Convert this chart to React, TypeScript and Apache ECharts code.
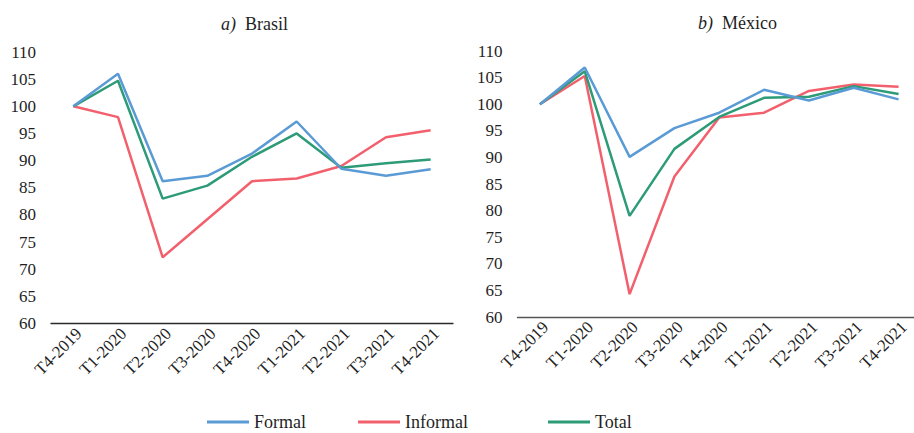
import React, { useEffect, useRef } from "react";
import * as echarts from "echarts";

const categories = ["T4-2019", "T1-2020", "T2-2020", "T3-2020", "T4-2020", "T1-2021", "T2-2021", "T3-2021", "T4-2021"];

const brasilFormal = [100, 106.0, 86.2, 87.2, 91.3, 97.2, 88.5, 87.2, 88.4];
const brasilInformal = [100, 98.0, 72.2, 79.2, 86.2, 86.7, 89.0, 94.3, 95.6];
const brasilTotal = [100, 104.7, 83.0, 85.4, 90.7, 95.0, 88.7, 89.5, 90.2];

const mexicoFormal = [100, 106.9, 90.1, 95.5, 98.4, 102.7, 100.7, 103.1, 100.9];
const mexicoInformal = [100, 105.3, 64.3, 86.4, 97.5, 98.4, 102.5, 103.7, 103.3];
const mexicoTotal = [100, 106.2, 79.0, 91.6, 97.6, 101.2, 101.4, 103.4, 101.9];

const seriesNames = ["Formal", "Informal", "Total"];
const panelTitles = ["a)", "Brasil", "b)", "México"];

const COLORS = ["#5B9BD5", "#F2606D", "#2D9B78"];
const FONT = "Liberation Serif";
const TEXT = "#1f1f1f";

export default function App() {
  const ref = useRef<HTMLDivElement>(null);

  useEffect(() => {
    if (!ref.current) return;
    const chart = echarts.init(ref.current, null, { renderer: "svg" });

    const grids = [
      { left: 51, top: 52, width: 402, height: 271.5 },
      { left: 517.5, top: 51, width: 403.5, height: 266 },
    ];

    const xAxes = grids.map((_, i) => ({
      type: "category",
      gridIndex: i,
      data: categories,
      boundaryGap: true,
      axisLine: { show: true, lineStyle: { color: i === 0 ? "#2a2a2a" : "#555555", width: 1.3 } },
      axisTick: { show: false },
      splitLine: { show: false },
      axisLabel: {
        rotate: 45,
        interval: 0,
        fontFamily: FONT,
        fontSize: 17,
        color: TEXT,
        margin: 13,
        padding: [0, -8, 0, 0],
      },
    }));

    const yAxes = grids.map((_, i) => ({
      type: "value",
      gridIndex: i,
      min: 60,
      max: 110,
      interval: 5,
      axisLine: { show: false },
      axisTick: { show: false },
      splitLine: { show: false },
      axisLabel: { fontFamily: FONT, fontSize: 17, color: TEXT, margin: 15 },
    }));

    const data = [
      [brasilFormal, brasilInformal, brasilTotal],
      [mexicoFormal, mexicoInformal, mexicoTotal],
    ];

    const series: any[] = [];
    data.forEach((panel, p) => {
      panel.forEach((vals, s) => {
        series.push({
          type: "line",
          name: seriesNames[s],
          xAxisIndex: p,
          yAxisIndex: p,
          data: vals,
          symbol: "none",
          lineStyle: { color: COLORS[s], width: 2.5 },
          itemStyle: { color: COLORS[s] },
          z: s === 0 ? 3 : s === 2 ? 2 : 1,
        });
      });
    });

    const titleRich = {
      i: { fontFamily: FONT, fontSize: 18, fontStyle: "italic", fontWeight: "normal", color: TEXT },
      n: { fontFamily: FONT, fontSize: 18, fontWeight: "normal", color: TEXT },
    };

    const legendLefts = [207, 358, 548];

    chart.setOption({
      animation: false,
      title: [
        {
          text: `{i|${panelTitles[0]}}{n|  ${panelTitles[1]}}`,
          left: 249.5,
          top: 10,
          textAlign: "center",
          textStyle: { fontWeight: "normal", rich: titleRich },
        },
        {
          text: `{i|${panelTitles[2]}}{n|  ${panelTitles[3]}}`,
          left: 732.5,
          top: 8.5,
          textAlign: "center",
          textStyle: { fontWeight: "normal", rich: titleRich },
        },
      ],
      legend: seriesNames.map((n, i) => ({
        data: [n],
        left: legendLefts[i],
        top: 413,
        padding: 0,
        icon: "rect",
        itemWidth: 42,
        itemHeight: 3,
        selectedMode: false,
        textStyle: { fontFamily: FONT, fontSize: 18, color: TEXT, lineHeight: 18 },
      })),
      grid: grids,
      xAxis: xAxes,
      yAxis: yAxes,
      series,
    });

    return () => chart.dispose();
  }, []);

  return (
    <div
      ref={ref}
      style={{ position: "fixed", left: 0, top: 0, width: 930, height: 433, background: "#fff" }}
    />
  );
}
